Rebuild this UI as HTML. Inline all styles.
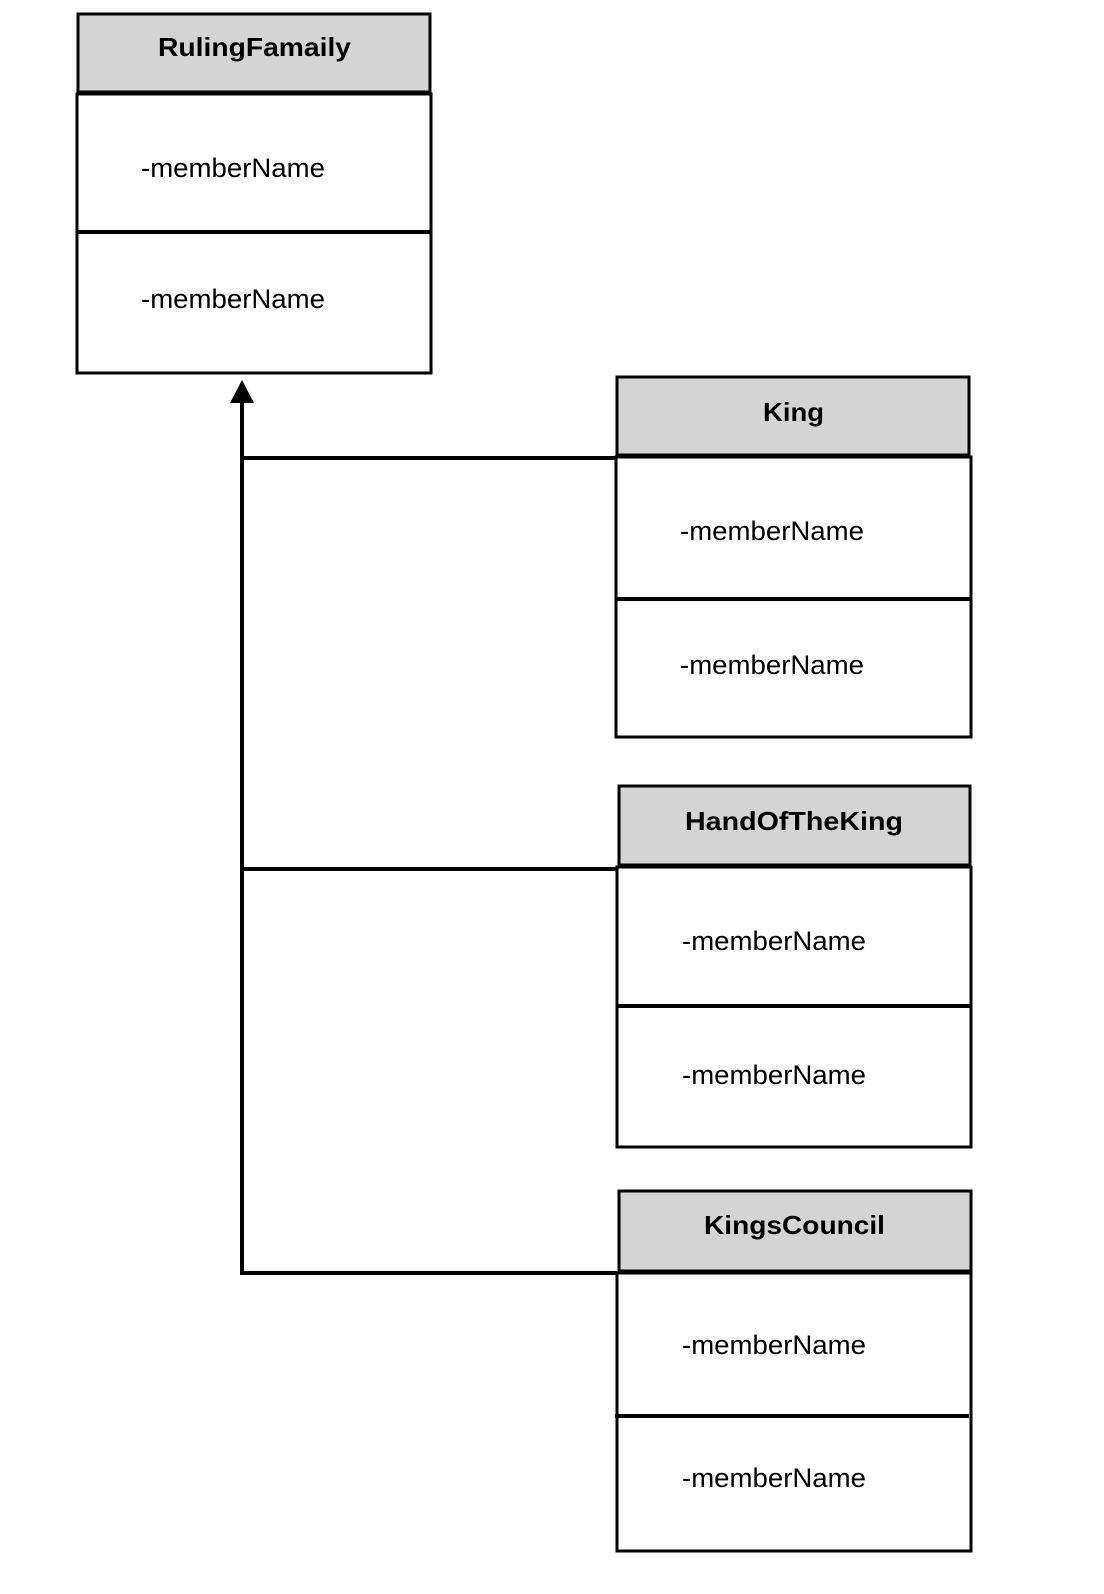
<!DOCTYPE html>
<html><head><meta charset="utf-8"><style>html,body{margin:0;padding:0;background:#fff}svg{display:block}</style></head>
<body>
<svg width="1104" height="1594" viewBox="0 0 1104 1594" xmlns="http://www.w3.org/2000/svg" font-family="Liberation Sans, Arial, sans-serif">
<g stroke="#000" stroke-width="3" fill="none">
<rect x="78" y="14" width="352" height="78" fill="#d4d4d4"/>
<rect x="77" y="94" width="354" height="279" fill="#fff"/>
<line x1="77" y1="232" x2="431" y2="232" stroke-width="4"/>
<rect x="617" y="377" width="352" height="78" fill="#d4d4d4"/>
<rect x="616" y="457" width="355" height="280" fill="#fff"/>
<line x1="616" y1="599" x2="971" y2="599" stroke-width="4"/>
<rect x="619" y="786" width="351" height="79" fill="#d4d4d4"/>
<rect x="617" y="867" width="354" height="280" fill="#fff"/>
<line x1="617" y1="1006" x2="971" y2="1006" stroke-width="4"/>
<rect x="619" y="1191" width="352" height="80" fill="#d4d4d4"/>
<rect x="617" y="1273" width="354" height="278" fill="#fff"/>
<line x1="615" y1="1416" x2="969" y2="1416" stroke-width="4"/>
<line x1="242" y1="400" x2="242" y2="1275" stroke-width="4"/>
<line x1="240" y1="458" x2="617" y2="458" stroke-width="4"/>
<line x1="240" y1="869" x2="617" y2="869" stroke-width="4"/>
<line x1="240" y1="1273" x2="617" y2="1273" stroke-width="4"/>
</g>
<polygon points="242,380 230,403 254,403" fill="#000"/>
<g font-size="26" fill="#000">
<g font-weight="bold">
<text x="158" y="56" textLength="193" lengthAdjust="spacingAndGlyphs">RulingFamaily</text>
<text x="763" y="421" textLength="61" lengthAdjust="spacingAndGlyphs">King</text>
<text x="685" y="830" textLength="218" lengthAdjust="spacingAndGlyphs">HandOfTheKing</text>
<text x="704" y="1234" textLength="181" lengthAdjust="spacingAndGlyphs">KingsCouncil</text>
</g>
<g font-size="27">
<text x="141" y="177" textLength="184" lengthAdjust="spacingAndGlyphs">-memberName</text>
<text x="141" y="308" textLength="184" lengthAdjust="spacingAndGlyphs">-memberName</text>
<text x="680" y="540" textLength="184" lengthAdjust="spacingAndGlyphs">-memberName</text>
<text x="680" y="674" textLength="184" lengthAdjust="spacingAndGlyphs">-memberName</text>
<text x="682" y="950" textLength="184" lengthAdjust="spacingAndGlyphs">-memberName</text>
<text x="682" y="1084" textLength="184" lengthAdjust="spacingAndGlyphs">-memberName</text>
<text x="682" y="1354" textLength="184" lengthAdjust="spacingAndGlyphs">-memberName</text>
<text x="682" y="1487" textLength="184" lengthAdjust="spacingAndGlyphs">-memberName</text>
</g>
</g>
</svg>
</body></html>
